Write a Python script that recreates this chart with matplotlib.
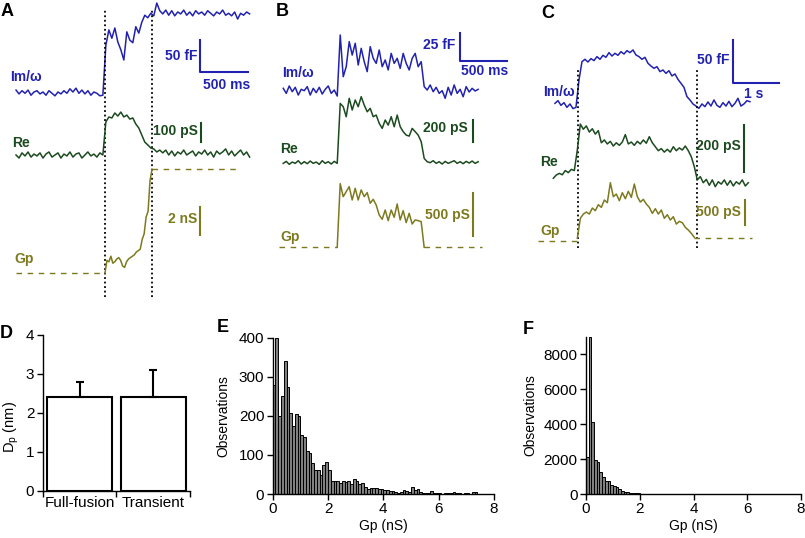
#!/usr/bin/env python
# capacitance traces (A-C), pore diameter (D) and Gp histograms (E, F)

import numpy as np
import matplotlib
matplotlib.use("Agg")
import matplotlib.pyplot as plt

plt.rcParams["font.family"] = ["Liberation Sans", "DejaVu Sans"]

W, H = 805, 538
BLUE = "#2222b0"
GREEN = "#1c4a1f"
OLIVE = "#7d7a1e"

# ---- panel A (ms ; fF, pS, nS) ----
DT_A = 31.2
DT_A_GP = 20.4
events_a = [927, 1417]
im_a = [3, -3, 2, -2, 3, -5, 0, 2, -3, 0, -5, 2, -2, -6, 0, -3, 2, -2, 5, 0, 6, -2, 3, -3, 2, -5, 0, -2, -6, -5,
        73, 97, 84, 100, 78, 66, 50, 94, 81, 77, 102, 92, 109, 120, 116, 123, 119, 139, 127, 122,
        128, 120, 127, 119, 125, 122, 128, 120, 125, 119, 127, 122, 125, 120, 127, 123, 119, 125, 122, 128,
        120, 123, 119, 125, 114, 123, 120, 125, 122]
re_a = [0, -16, 11, -5, 16, -11, 5, -5, 11, -16, 5, 16, -11, 0, 11, -16, 5, -5, 16, -11, 5, 11, -16, 0, 16, -5, 5, -11, 11, 0,
        174, 200, 195, 221, 205, 226, 200, 210, 189, 195, 163, 142, 105, 68, 53, 37, 32, 16, 26,
        11, 26, 0, 21, -5, 16, 5, 26, 0, 11, 21, -5, 16, 5, 26, 0, 16, -11, 21, 5, 16, 32, 0, 21, -5, 11, 26, 0, 16, -11]
gp_a = [0, 0.9, 0.8, 1.2, 0.7, 0.8, 1.0, 1.1, 0.9, 0.5, 0.4, 0.8, 1.0, 1.1, 1.2, 1.3, 1.5, 1.6, 1.7, 2.4,
        2.8, 4.0, 4.4, 6.6, 7.4]

# ---- panel B (ms ; fF, pS, pS) ----
DT_B = 31.9
GP_B_START = 574
im_b = [1.5, -3.0, 3.6, -1.5, 2.4, -4.5, 0.6, -0.6, 3.0, -4.5, 1.5, -2.4, 2.4, -3.6, 0.6, 3.6, -3.0, 0, -5.4,
        49.1, 11.9, 20.8, 43.2, 31.2, 41.7, 22.3, 37.2, 25.3, 16.4, 38.7, 28.3, 23.8, 35.7, 20.8, 26.8, 17.9,
        32.7, 23.8, 28.3, 19.3, 32.7, 23.8, 17.9, 28.3, 32.7, 20.8, 25.3,
        3.0, 0, 4.5, -1.5, 2.4, -3.0, -0.6, -7.4, 2.4, -4.5, 4.5, -3.0, 0.6, -6.0, 3.0, -1.8, 1.5, -0.9, 0.6]
re_b = [-6, 12, -15, 6, -6, 18, -12, 9, -9, 15, -6, 6, -15, 18, -6, 9, -12, 12, -6,
        539, 509, 418, 585, 479, 570, 509, 600, 524, 463, 494, 418, 433, 358, 312, 388, 342, 418, 327, 433,
        327, 282, 251, 242, 312, 282, 251, 191,
        39, 9, 0, 18, -6, 9, -12, 12, -6, 6, 18, -6, 9, -9, 12, -3, 15, -6, 9]
gp_b = [0, 740, 589, 647, 705, 550, 686, 550, 667, 589, 636, 512, 558, 492, 376, 326, 434, 310, 434, 349,
        504, 318, 426, 287, 395, 271, 318, 310, 298, 0]

# ---- panel C (ms ; fF, pS, pS) ----
DT_C = 65.2
RE_C_START = -36
GP_C_START = 486
events_c = [507, 3080]
im_c = [1.9, 5.0, -0.4, 2.7, -2.7, 1.2, -4.2, -2.7, 28.8, 50.0, 52.7, 49.6, 53.5, 51.2, 55.8, 52.7, 57.3, 55.0,
        60.4, 56.5, 59.6, 57.3, 61.5, 58.8, 62.7, 60.4, 63.5, 57.7, 55.8, 52.7, 55.0, 48.1, 45.0, 42.3, 44.2,
        38.5, 40.4, 36.5, 39.6, 33.5, 35.8, 29.6, 25.0, 20.4, 9.6, 5.8, 1.2, -1.2, -3.8, 1.2, -1.9, 3.5, -1.2,
        5.8, -0.4, -2.7, 2.7, -1.2, 4.2, -1.9, 1.9, 7.7, -1.2, 1.2, 5.0, 3.8]
re_c = [-14, 0, 7, 1, 19, 10, 24, 19, 107, 218, 196, 210, 184, 198, 175, 190, 138, 150, 133, 144,
        124, 138, 127, 141, 173, 133, 141, 127, 144, 133, 150, 136, 164, 138, 121, 104, 113, 98, 110, 98,
        121, 104, 116, 107, 124, 104, 78, 36, -21, -7, -33, -19, -44, -21, -50, -29, -39, -21, -44, -24,
        -47, -29, -39, -21, -47, -33]
gp_c = [47, 447, 533, 573, 533, 653, 600, 720, 667, 813, 760, 1160, 880, 933, 800, 960, 840, 987, 867, 1133,
        880, 773, 827, 733, 667, 547, 640, 533, 613, 447, 520, 413, 480, 333, 387, 360, 267, 213, 147, 67]
gp_c_after = 60

# ---- panel D ----
dp_labels = ["Full-fusion", "Transient"]
dp_mean = [2.4, 2.4]
dp_sem = [0.4, 0.7]

# ---- panels E, F : Gp histograms, 0.1 nS bins from 0 to 8 nS ----
BIN = 0.1
counts_e = [280, 400, 200, 250, 341, 275, 207, 175, 204, 200, 151, 145, 109, 104, 79, 62, 62, 49, 74, 81,
            62, 32, 32, 32, 27, 32, 30, 32, 25, 38, 34, 25, 28, 18, 12, 16, 16, 15, 12, 13,
            9, 10, 7, 8, 5, 3, 5, 9, 7, 4, 17, 10, 12, 4, 3, 2, 3, 7, 3, 2,
            2, 1, 2, 3, 2, 4, 2, 2, 1, 2, 2, 1, 4, 5, 1, 1, 0, 1, 0, 0]
counts_f = [2137, 9000, 4103, 1947, 1850, 1280, 990, 760, 745, 515, 480, 380, 270, 190, 135, 95, 75, 55, 40, 30,
            25, 20, 18, 15, 12, 10, 10, 8, 8, 6, 6, 5, 5, 4, 4, 4, 3, 3, 3, 3,
            3, 2, 2, 2, 2, 2, 2, 2, 2, 2, 2, 2, 2, 1, 1, 1, 1, 1, 1, 1,
            1, 1, 1, 1, 1, 1, 1, 1, 1, 1, 1, 1, 1, 1, 1, 1, 1, 1, 1, 1]


def px_axes(fig, x0, y0, x1, y1):
    return fig.add_axes([x0 / W, 1 - y1 / H, (x1 - x0) / W, (y1 - y0) / H])


def trace_axes(fig, box, xlim, base, ppu):
    # base: pixel row of the trace's zero, ppu: pixels per data unit
    x0, y0, x1, y1 = box
    ax = px_axes(fig, x0, y0, x1, y1)
    ax.set_xlim(xlim)
    ax.set_ylim((base - y1) / ppu, (base - y0) / ppu)
    ax.axis("off")
    return ax


def lab(ax, x, y, s, color, ha="right"):
    ax.text(x, y, s, ha=ha, va="center", color=color, fontsize=10, fontweight="bold")


DASH = (0, (4, 4))
DOT = (0, (1, 1.5))
LW = 1.1

fig = plt.figure(figsize=(W / 100, H / 100), dpi=100)

# ---------------- A ----------------
box = (0, 0, 260, 300)
xl = (-167, 2542)
im = trace_axes(fig, box, xl, 92, 0.64)
re = trace_axes(fig, box, xl, 155, 0.19)
gp = trace_axes(fig, box, xl, 273, 14.0)
im.plot(np.arange(len(im_a)) * DT_A, im_a, color=BLUE, lw=LW)
re.plot(np.arange(len(re_a)) * DT_A, re_a, color=GREEN, lw=LW)
gp.plot(events_a[0] + np.arange(len(gp_a)) * DT_A_GP, gp_a, color=OLIVE, lw=LW)
gp.plot([0, events_a[0]], [0, 0], color=OLIVE, lw=1, ls=DASH)
gp.plot([events_a[1], 2300], [gp_a[-1], gp_a[-1]], color=OLIVE, lw=1, ls=DASH)
im.vlines(events_a, -320, 128, colors="k", lw=1.3, linestyles=[DOT])
im.plot([1917, 1917, 2417], [81, 31, 31], color=BLUE, lw=1.5)
lab(im, 1886, 56, "50 fF", BLUE)
lab(im, 2195, 11, "500 ms", BLUE, "center")
re.plot([1928, 1928], [68, 168], color=GREEN, lw=1.5)
lab(re, 1896, 126, "100 pS", GREEN)
gp.plot([1917, 1917], [2.71, 4.71], color=OLIVE, lw=1.5)
lab(gp, 1886, 3.86, "2 nS", OLIVE)
lab(im, -62, 23, "Im/\u03c9", BLUE, "left")
lab(re, -42, 63, "Re", GREEN, "left")
lab(gp, -21, 1.0, "Gp", OLIVE, "left")

# ---------------- B ----------------
box = (270, 0, 530, 300)
xl = (-141, 2625)
im = trace_axes(fig, box, xl, 90, 1.12)
re = trace_axes(fig, box, xl, 162.7, 0.11)
gp = trace_axes(fig, box, xl, 247.3, 0.086)
im.plot(np.arange(len(im_b)) * DT_B, im_b, color=BLUE, lw=LW)
re.plot(np.arange(len(re_b)) * DT_B, re_b, color=GREEN, lw=LW)
tg = GP_B_START + np.arange(len(gp_b)) * DT_B
gp.plot(tg, gp_b, color=OLIVE, lw=LW)
gp.plot([-43, tg[0]], [0, 0], color=OLIVE, lw=1, ls=DASH)
gp.plot([tg[-1], 2111], [0, 0], color=OLIVE, lw=1, ls=DASH)
im.plot([1880, 1880, 2380], [50.9, 25.9, 25.9], color=BLUE, lw=1.5)
lab(im, 1827, 40.2, "25 fF", BLUE)
lab(im, 2146, 17.2, "500 ms", BLUE, "center")
re.plot([2015, 2015], [191, 391], color=GREEN, lw=1.5)
lab(re, 1965, 313, "200 pS", GREEN)
gp.plot([2022, 2022], [132, 632], color=OLIVE, lw=1.5)
lab(gp, 1987, 376, "500 pS", OLIVE)
lab(im, -17, 14.9, "Im/\u03c9", BLUE, "left")
lab(re, -35, 125, "Re", GREEN, "left")
lab(gp, -35, 116, "Gp", OLIVE, "left")

# ---------------- C ----------------
box = (530, 0, 800, 300)
xl = (-543, 5326)
im = trace_axes(fig, box, xl, 105, 0.867)
re = trace_axes(fig, box, xl, 175, 0.2336)
gp = trace_axes(fig, box, xl, 240.7, 0.05)
im.plot(np.arange(len(im_c)) * DT_C, im_c, color=BLUE, lw=LW)
re.plot(RE_C_START + np.arange(len(re_c)) * DT_C, re_c, color=GREEN, lw=LW)
tg = GP_C_START + np.arange(len(gp_c)) * DT_C
gp.plot(tg, gp_c, color=OLIVE, lw=LW)
gp.plot([-362, tg[0]], [0, 0], color=OLIVE, lw=1, ls=DASH)
gp.plot([tg[-1], 4276], [gp_c_after, gp_c_after], color=OLIVE, lw=1, ls=DASH)
im.vlines(events_c, -165, 42.7, colors="k", lw=1.3, linestyles=[DOT])
im.plot([3863, 3863, 4863], [75, 25, 25], color=BLUE, lw=1.5)
lab(im, 3804, 51.9, "50 fF", BLUE)
lab(im, 4326, 12.7, "1 s", BLUE, "center")
re.plot([4116, 4116], [14, 214], color=GREEN, lw=1.5)
lab(re, 4044, 125, "200 pS", GREEN)
gp.plot([4131, 4131], [313, 813], color=OLIVE, lw=1.5)
lab(gp, 4044, 580, "500 pS", OLIVE)
lab(im, -267, 15.3, "Im/\u03c9", BLUE, "left")
lab(re, -326, 54, "Re", GREEN, "left")
lab(gp, -326, 200, "Gp", OLIVE, "left")


def style(ax):
    for s in ("top", "right"):
        ax.spines[s].set_visible(False)
    for s in ("left", "bottom"):
        ax.spines[s].set_linewidth(1.0)
    ax.tick_params(direction="out", length=4, width=1, labelsize=11, pad=2)


# ---------------- D ----------------
ax = px_axes(fig, 42.7, 335, 190, 490.7)
xpos = np.arange(len(dp_labels))
ax.bar(xpos, dp_mean, width=0.88, color="white", edgecolor="black", lw=1.5,
       yerr=[[0, 0], dp_sem], capsize=3, error_kw=dict(lw=1.5, capthick=1.5))
ax.set_xlim(-0.5, 1.5)
ax.set_ylim(0, 4)
ax.set_yticks([0, 1, 2, 3, 4])
ax.set_xticks(xpos, dp_labels)
ax.set_xticks([-0.5, 0.5, 1.5], minor=True)
style(ax)
ax.tick_params(axis="x", which="major", length=0, pad=4)
ax.tick_params(axis="x", which="minor", length=4, width=1)
ax.set_ylabel(r"D$_\mathregular{p}$ (nm)", fontsize=10.5)
ax.yaxis.set_label_coords(-0.145, 0.41)

# ---------------- E ----------------
left = np.round(np.arange(len(counts_e)) * BIN, 1)
ax = px_axes(fig, 272.7, 337.7, 494, 494)
ax.bar(left, counts_e, width=BIN, align="edge", color="#808080", edgecolor="black", lw=0.7)
ax.set_xlim(0, 8)
ax.set_ylim(0, 400)
ax.set_xticks([0, 2, 4, 6, 8])
ax.set_yticks([0, 100, 200, 300, 400])
style(ax)
ax.set_xlabel("Gp (nS)", fontsize=10, labelpad=2)
ax.set_ylabel("Observations", fontsize=10)
ax.yaxis.set_label_coords(-0.193, 0.5)

# ---------------- F ----------------
left = np.round(np.arange(len(counts_f)) * BIN, 1)
ax = px_axes(fig, 586, 337, 801, 494)
ax.bar(left, counts_f, width=BIN, align="edge", color="#808080", edgecolor="black", lw=0.7)
ax.set_xlim(0, 8)
ax.set_ylim(0, 9000)
ax.set_xticks([0, 2, 4, 6, 8])
ax.set_yticks([0, 2000, 4000, 6000, 8000])
style(ax)
ax.set_xlabel("Gp (nS)", fontsize=10, labelpad=2)
ax.set_ylabel("Observations", fontsize=10)
ax.yaxis.set_label_coords(-0.228, 0.5)

# panel letters
for letter, x, y in [("A", 1, 12), ("B", 276, 12), ("C", 541, 13),
                     ("D", 0, 333), ("E", 217, 327), ("F", 523, 330)]:
    fig.text(x / W, 1 - y / H, letter, fontsize=13, fontweight="bold", va="center", ha="left")

fig.savefig("out.png", dpi=100)
